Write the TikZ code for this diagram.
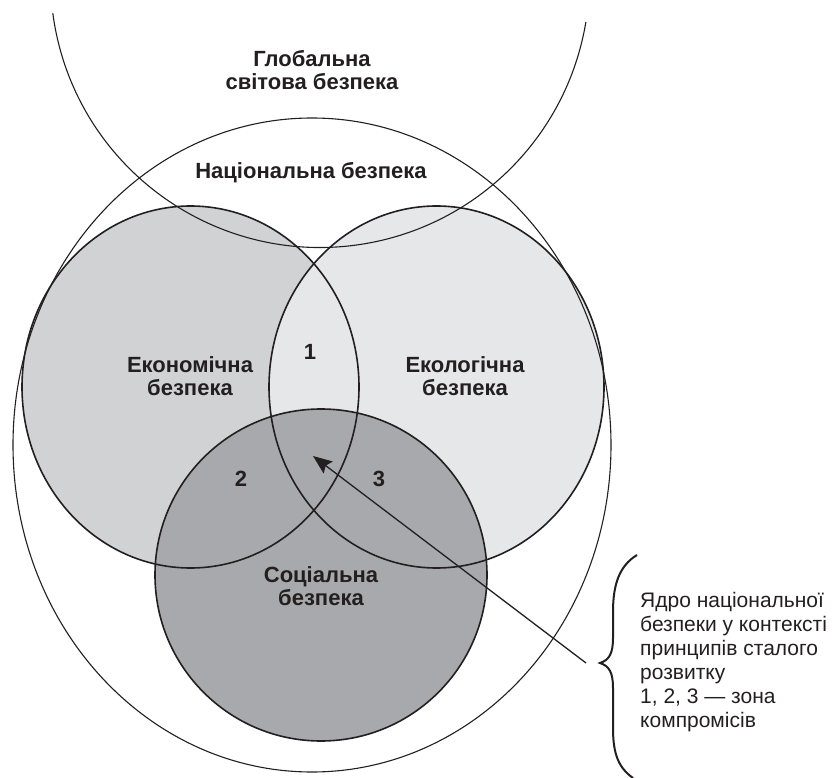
\documentclass[tikz,border=0pt]{standalone}
\usepackage{fontspec}
\setmainfont{Liberation Sans}
\usetikzlibrary{arrows.meta}

\definecolor{econgray}{HTML}{D1D2D4}
\definecolor{ecolgray}{HTML}{E6E7E8}
\definecolor{socgray}{HTML}{A7A9AC}
\definecolor{ink}{HTML}{231F20}

\begin{document}
\begin{tikzpicture}[
    x=1pt, y=-1pt,
    thinline/.style = {draw=ink, line width=1.1pt},
    sphere/.style = {draw=ink, line width=1.6pt},
    title/.style = {font=\fontsize{22}{23.5}\selectfont\bfseries, text=ink, align=center},
    zone/.style = {font=\fontsize{22}{23.5}\selectfont\bfseries, text=ink},
    remark/.style = {font=\fontsize{21}{24}\selectfont, text=ink, align=left, anchor=base west, inner sep=0pt}
]
    \useasboundingbox (0,0) rectangle (839,778);

    % Fills of the three spheres (social lies on top)
    \fill[econgray] (190.5,387) ellipse [x radius=168.5pt, y radius=181pt];
    \fill[ecolgray] (436.5,387) ellipse [x radius=167.5pt, y radius=181pt];
    \fill[socgray] (321,575) ellipse [x radius=166pt, y radius=166pt];

    % Outlines
    \draw[thinline] (320,-22) ++(172.5:269.5) arc [start angle=172.5, end angle=9.4, radius=269.5];
    \draw[thinline] (312,445) ellipse [x radius=299pt, y radius=327pt];
    \draw[sphere] (190.5,387) ellipse [x radius=168.5pt, y radius=181pt];
    \draw[sphere] (436.5,387) ellipse [x radius=167.5pt, y radius=181pt];
    \draw[sphere] (321,575) ellipse [x radius=166pt, y radius=166pt];

    % Labels
    \node[title] (global) at (312,70) {Глобальна\\світова безпека};
    \node[title] (national) at (311,173) {Національна безпека};
    \node[title] (econ) at (190,376) {Економічна\\безпека};
    \node[title] (ecol) at (465,376) {Екологічна\\безпека};
    \node[title] (social) at (321,586) {Соціальна\\безпека};
    \node[zone] (zone1) at (310,352) {1};
    \node[zone] (zone2) at (241,479) {2};
    \node[zone] (zone3) at (379,479) {3};

    % Note with brace and pointer to the core
    \node[remark] (note) at (640,727) {Ядро національної\\безпеки у контексті\\принципів сталого\\розвитку\\1, 2, 3 — зона\\компромісів};
    \draw[ink, line width=2pt] (637,555) .. controls (619,566) and (613,585) .. (613,612)
        -- (613,638) .. controls (613,654) and (609,660) .. (600,663)
        .. controls (609,666) and (613,672) .. (613,688)
        -- (613,728) .. controls (613,755) and (619,768) .. (633,778);
    \coordinate (core) at (313,456);
    \coordinate (tail) at (586,663);
    \draw[ink, line width=1.3pt, -{Stealth[length=19pt, width=15pt, inset=3pt]}] (tail) -- (core);
\end{tikzpicture}
\end{document}
